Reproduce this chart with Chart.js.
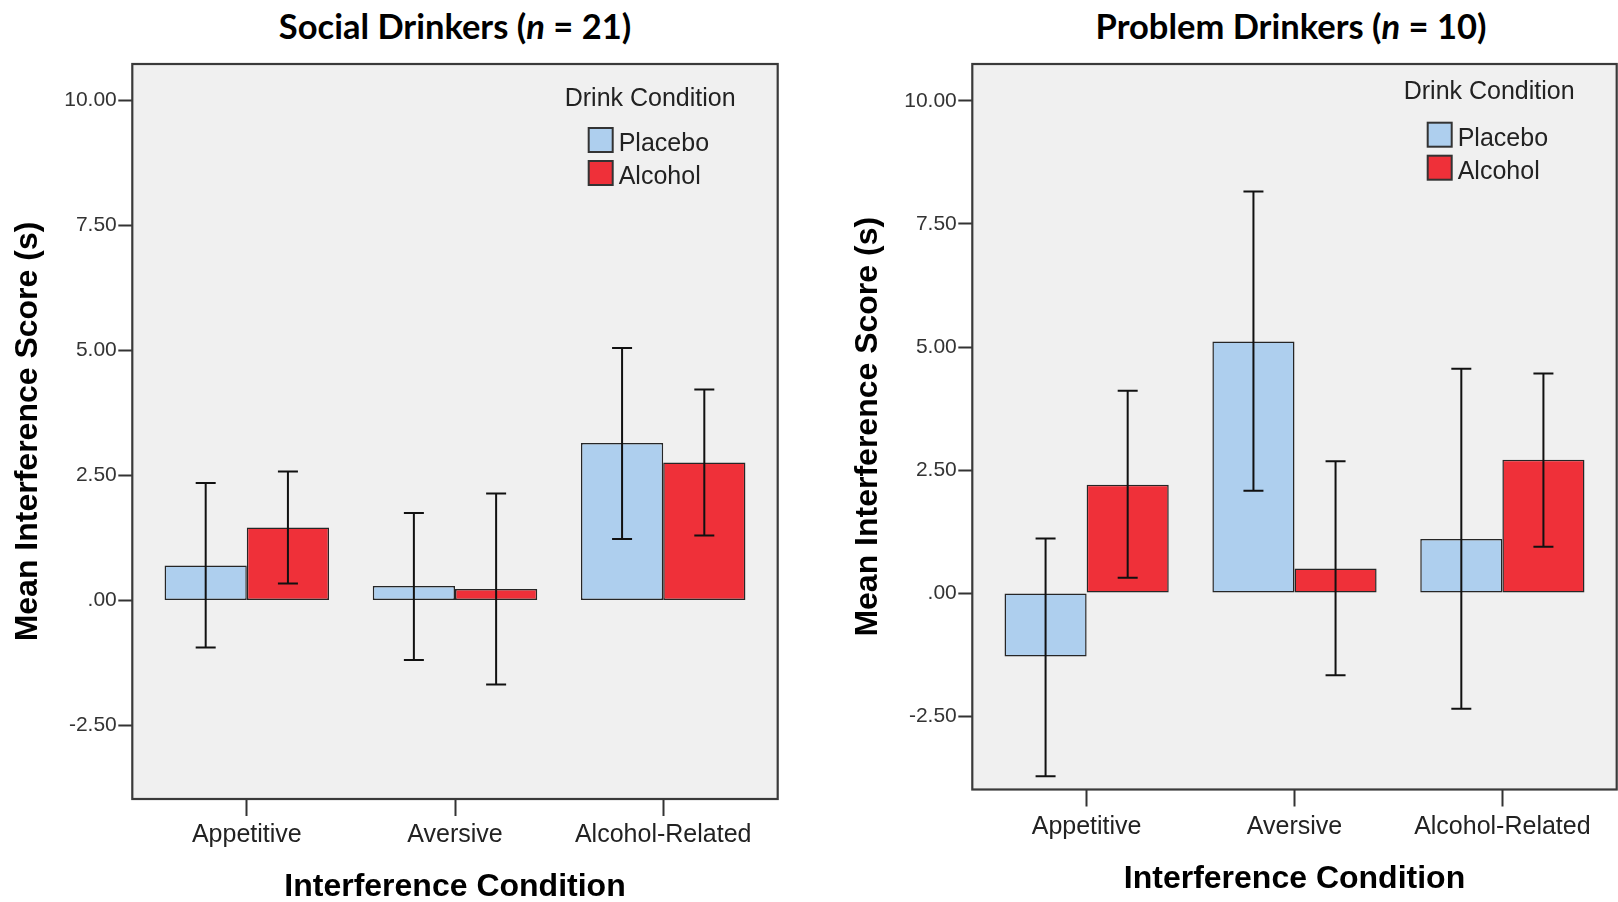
<!DOCTYPE html>
<html>
<head>
<meta charset="utf-8">
<script src="https://cdn.jsdelivr.net/npm/chart.js@4.4.0/dist/chart.umd.min.js"></script>
<style>
body { margin: 0; background: #fff; width: 1618px; height: 902px; overflow: hidden; position: relative; }
.title { position: absolute; top: 5px; font-family: Lato, sans-serif; font-weight: bold; font-size: 34.5px; line-height: 41px; color: #000; white-space: nowrap; transform: translateX(-50%); }
canvas { position: absolute; top: 0; }
</style>
</head>
<body>
<div class="title" style="left:455px">Social Drinkers (<i>n</i> = 21)</div>
<div class="title" style="left:1291px">Problem Drinkers (<i>n</i> = 10)</div>
<canvas id="graficaSocial" width="809" height="902" style="left:0"></canvas>
<canvas id="graficaProblem" width="809" height="902" style="left:809px"></canvas>
<script>
var categories = ['Appetitive', 'Aversive', 'Alcohol-Related'];
var seriesNames = ['Placebo', 'Alcohol'];
var yTicks = [-2.5, 0, 2.5, 5, 7.5, 10];

// social drinkers, means and error bar ends
var socialPlacebo = [0.70, 0.29, 3.15];
var socialPlaceboLow = [-0.94, -1.19, 1.23];
var socialPlaceboHigh = [2.35, 1.75, 5.05];
var socialAlcohol = [1.46, 0.23, 2.76];
var socialAlcoholLow = [0.34, -1.68, 1.30];
var socialAlcoholHigh = [2.58, 2.14, 4.22];

// problem drinkers
var problemPlacebo = [-1.29, 5.11, 1.10];
var problemPlaceboLow = [-3.72, 2.08, -2.35];
var problemPlaceboHigh = [1.11, 8.16, 4.56];
var problemAlcohol = [2.20, 0.50, 2.71];
var problemAlcoholLow = [0.31, -1.67, 0.94];
var problemAlcoholHigh = [4.11, 2.68, 4.46];

var colores = ['#AECFEE', '#EF3039'];

var frame = {
    id: 'frame',
    beforeDraw: function(chart) {
        var a = chart.chartArea, c = chart.ctx;
        c.save();
        c.fillStyle = '#F0F0F0';
        c.fillRect(a.left, a.top, a.right - a.left, a.bottom - a.top);
        c.restore();
    },
    afterDraw: function(chart) {
        var a = chart.chartArea, c = chart.ctx;
        c.save();
        c.strokeStyle = '#3a3a3a';
        c.lineWidth = 2.2;
        c.strokeRect(a.left, a.top, a.right - a.left, a.bottom - a.top);
        c.restore();
    }
};

var errorBars = {
    id: 'errorBars',
    afterDatasetsDraw: function(chart) {
        var c = chart.ctx, ys = chart.scales.y;
        c.save();
        c.strokeStyle = '#111';
        c.lineWidth = 2;
        chart.data.datasets.forEach(function(ds, d) {
            chart.getDatasetMeta(d).data.forEach(function(bar, i) {
                var x = bar.x;
                var y1 = ys.getPixelForValue(ds.errHigh[i]);
                var y2 = ys.getPixelForValue(ds.errLow[i]);
                c.beginPath();
                c.moveTo(x, y1); c.lineTo(x, y2);
                c.moveTo(x - 10, y1); c.lineTo(x + 10, y1);
                c.moveTo(x - 10, y2); c.lineTo(x + 10, y2);
                c.stroke();
            });
        });
        c.restore();
    }
};

var drinkLegend = {
    id: 'drinkLegend',
    afterDraw: function(chart, args, opts) {
        var a = chart.chartArea, c = chart.ctx;
        c.save();
        c.font = '25px "Liberation Sans"';
        c.fillStyle = '#222';
        c.textBaseline = 'alphabetic';
        c.fillText('Drink Condition', a.right - 213, a.top + opts.titleY);
        chart.data.datasets.forEach(function(ds, d) {
            var bx = a.right - 189, by = a.top + opts.boxY + d * 33;
            c.fillStyle = ds.backgroundColor;
            c.fillRect(bx, by, 24, 24);
            c.strokeStyle = '#333';
            c.lineWidth = 2;
            c.strokeRect(bx, by, 24, 24);
            c.fillStyle = '#222';
            c.fillText(ds.label, bx + 30, by + 23);
        });
        c.restore();
    }
};

function toPoints(values) {
    return values.map(function(v, i) { return {x: i, y: v}; });
}

function formatTick(v) {
    return v === 0 ? '.00' : v.toFixed(2);
}

function buildChart(id, placebo, placeboLow, placeboHigh, alcohol, alcoholLow, alcoholHigh, lay) {
    var ctx = document.getElementById(id).getContext('2d');
    return new Chart(ctx, {
        type: 'bar',
        data: {
            datasets: [{
                label: seriesNames[0],
                data: toPoints(placebo),
                errLow: placeboLow,
                errHigh: placeboHigh,
                backgroundColor: colores[0],
                borderColor: '#262626',
                borderWidth: 1.5,
                borderSkipped: false,
                categoryPercentage: 0.79,
                barPercentage: 1
            }, {
                label: seriesNames[1],
                data: toPoints(alcohol),
                errLow: alcoholLow,
                errHigh: alcoholHigh,
                backgroundColor: colores[1],
                borderColor: '#262626',
                borderWidth: 1.5,
                borderSkipped: false,
                categoryPercentage: 0.79,
                barPercentage: 1
            }]
        },
        options: {
            responsive: false,
            animation: false,
            layout: {
                padding: {top: 64, right: lay.padRight, left: 0, bottom: 0}
            },
            plugins: {
                legend: {display: false},
                tooltip: {enabled: false},
                drinkLegend: {titleY: lay.legendTitleY, boxY: lay.legendBoxY}
            },
            scales: {
                x: {
                    type: 'linear',
                    min: -0.55,
                    max: 2.55,
                    offset: false,
                    afterBuildTicks: function(s) {
                        s.ticks = categories.map(function(c, i) { return {value: i}; });
                    },
                    afterFit: function(s) { s.height = lay.xHeight; },
                    ticks: {
                        callback: function(v) { return categories[v]; },
                        font: {family: 'Liberation Sans', size: 25, lineHeight: 1.2},
                        color: '#222',
                        padding: lay.xTickPad,
                        maxRotation: 0,
                        autoSkip: false
                    },
                    grid: {offset: false, drawOnChartArea: false, drawTicks: true, tickLength: 17, tickWidth: 2, tickColor: '#333'},
                    border: {display: false},
                    title: {
                        display: true,
                        text: 'Interference Condition',
                        font: {family: 'Liberation Sans', size: 32, weight: 'bold', lineHeight: 1},
                        color: '#000',
                        padding: {top: 0, bottom: lay.xTitlePad}
                    }
                },
                y: {
                    min: lay.yMin,
                    max: lay.yMax,
                    afterBuildTicks: function(s) {
                        s.ticks = yTicks.map(function(v) { return {value: v}; });
                    },
                    afterFit: function(s) { s.width = lay.yWidth; },
                    ticks: {
                        callback: formatTick,
                        font: {family: 'Liberation Sans', size: 21},
                        color: '#333',
                        padding: 1.5
                    },
                    grid: {drawOnChartArea: false, drawTicks: true, tickLength: 14, tickWidth: 2, tickColor: '#333'},
                    border: {display: false},
                    title: {
                        display: true,
                        text: 'Mean Interference Score (s)',
                        font: {family: 'Liberation Sans', size: 32, weight: 'bold', lineHeight: 1},
                        color: '#000',
                        padding: {top: lay.yTitlePad, bottom: 0}
                    }
                }
            }
        },
        plugins: [frame, errorBars, drinkLegend]
    });
}

document.addEventListener("DOMContentLoaded", function() {
    buildChart('graficaSocial', socialPlacebo, socialPlaceboLow, socialPlaceboHigh,
        socialAlcohol, socialAlcoholLow, socialAlcoholHigh, {
            padRight: 31.3, yWidth: 132.3, xHeight: 103, yMin: -3.97, yMax: 10.73,
            xTickPad: 4.3, xTitlePad: -1, yTitlePad: 12, legendTitleY: 42, legendBoxY: 64
        });
    buildChart('graficaProblem', problemPlacebo, problemPlaceboLow, problemPlaceboHigh,
        problemAlcohol, problemAlcoholLow, problemAlcoholHigh, {
            padRight: 1.3, yWidth: 163.3, xHeight: 112.5, yMin: -3.99, yMax: 10.75,
            xTickPad: 6, xTitlePad: 6.5, yTitlePad: 43.5, legendTitleY: 35.3, legendBoxY: 58.7
        });
});
</script>
</body>
</html>
